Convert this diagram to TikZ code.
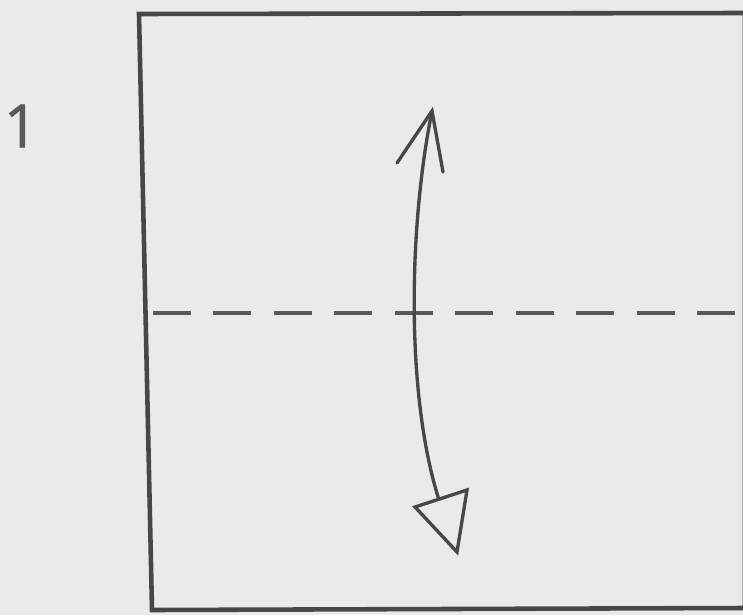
\documentclass[tikz,border=0pt]{standalone}
\usepackage{fontspec}
\setmainfont{Open Sans}
\newfontfamily\stepfont{Open Sans}[FakeBold=1.2]
\usepackage{xcolor}
\usetikzlibrary{arrows.meta, positioning, calc}
\definecolor{paper}{HTML}{EAEAEA}
\definecolor{ink}{HTML}{474747}
\definecolor{foldink}{HTML}{595959}
\tikzset{
	sheet/.style={draw=ink, line width=2.6pt, line join=miter},
	foldline/.style={draw=foldink, line width=2.4pt, dash pattern=on 0.76cm off 0.45cm},
	flip/.style={draw=ink, line width=1.9pt, line join=miter, line cap=round},
}
\begin{document}
\begin{tikzpicture}[x=0.02cm, y=-0.02cm]
				\fill[paper] (0,0) rectangle (743,615);
				\useasboundingbox (0,0) rectangle (743,615);
				% step number
				\node[font=\stepfont\fontsize{34}{34}\selectfont, text=foldink, inner sep=0pt] (stepno) at (21,126) {1};
				% the square sheet
				\draw[sheet] (139,14) -- (745,13) -- (745,608) -- (152,610) -- cycle;
				% valley fold
				\coordinate (foldL) at (153,313);
				\coordinate (foldR) at (745,313);
				\draw[foldline] (foldL) -- (foldR);
				% fold and unfold arrow
				\coordinate (tipT) at (432,111);
				\coordinate (tipB) at (440,503);
				\draw[flip] (tipT) .. controls (408,230) and (406,400) .. (tipB);
				\draw[flip] (397,163) -- (tipT) -- (443,172);
				\filldraw[flip, fill=paper] (415,507) -- (467,490) -- (457,552) -- cycle;
			\end{tikzpicture}
\end{document}
